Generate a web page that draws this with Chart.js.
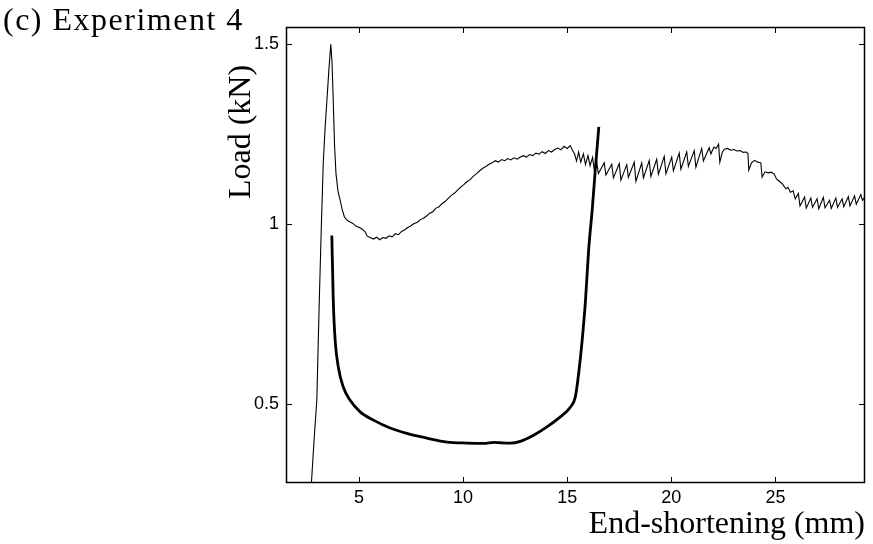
<!DOCTYPE html>
<html>
<head>
<meta charset="utf-8">
<script src="https://cdn.jsdelivr.net/npm/chart.js@4/dist/chart.umd.min.js"></script>
<style>
  body { margin: 0; background: #fff; }
  #wrap { width: 873px; height: 544px; }
</style>
</head>
<body>
<div id="wrap"><canvas id="loadChart" width="873" height="544"></canvas></div>
<script>
// measured load vs end-shortening (thin line)
const testX = [
  2.70, 2.85, 2.98, 3.10, 3.20, 3.29, 3.38, 3.46, 3.56, 3.65, 3.71, 3.77, 3.83, 3.90, 4.00, 4.10, 4.20, 4.30,
  4.40, 4.55, 4.70, 4.85, 5.00, 5.15, 5.30, 5.40, 5.55, 5.70, 5.85, 6.00, 6.15, 6.30, 6.45, 6.60, 6.75, 6.90,
  7.05, 7.20, 7.35, 7.50, 7.65, 7.80, 7.95, 8.10, 8.25, 8.40, 8.55, 8.70, 8.85, 9.00, 9.15, 9.30, 9.45, 9.60,
  9.75, 9.90, 10.05, 10.20, 10.35, 10.50, 10.65, 10.80, 10.95, 11.10, 11.25, 11.40, 11.55, 11.70, 11.85, 12.00,
  12.15, 12.30, 12.45, 12.60, 12.75, 12.90, 13.05, 13.20, 13.35, 13.50, 13.65, 13.80, 13.95, 14.10, 14.25, 14.40,
  14.55, 14.70, 14.85, 15.00, 15.15, 15.25,
  15.35, 15.45, 15.55, 15.65, 15.78, 15.88, 16.00, 16.10, 16.22, 16.30, 16.42,
  16.50, 16.78, 16.86, 17.14, 17.22, 17.50, 17.58, 17.86, 17.94, 18.22, 18.30, 18.58, 18.66, 18.94, 19.02,
  19.30, 19.38, 19.66, 19.74, 20.02, 20.10, 20.38, 20.46, 20.74, 20.82, 21.10, 21.18, 21.46, 21.54, 21.82,
  21.90, 22.05, 22.15, 22.27, 22.33, 22.45, 22.55, 22.70, 22.85, 23.00, 23.15, 23.30, 23.45, 23.60, 23.68,
  23.72, 23.85, 24.00, 24.15, 24.30, 24.36, 24.50, 24.65, 24.80, 24.95, 25.05, 25.20, 25.35, 25.50, 25.60,
  25.72, 25.85, 25.95, 26.10, 26.18, 26.40, 26.48, 26.70, 26.78, 27.00, 27.08, 27.30, 27.38, 27.60, 27.68,
  27.90, 27.98, 28.20, 28.28, 28.50, 28.58, 28.80, 28.88, 29.10, 29.18, 29.30
];
const testY = [
  0.26, 0.40, 0.51, 0.79, 1.00, 1.17, 1.27, 1.34, 1.43, 1.50, 1.45, 1.34, 1.22, 1.14, 1.09, 1.066, 1.040, 1.020,
  1.012, 1.006, 1.002, 0.994, 0.991, 0.986, 0.978, 0.966, 0.962, 0.958, 0.963, 0.956, 0.962, 0.960, 0.967, 0.964, 0.973, 0.970,
  0.979, 0.984, 0.990, 0.995, 1.001, 1.004, 1.012, 1.016, 1.022, 1.030, 1.034, 1.044, 1.048, 1.057, 1.063, 1.072, 1.080, 1.086,
  1.095, 1.103, 1.110, 1.118, 1.124, 1.133, 1.140, 1.148, 1.155, 1.160, 1.166, 1.170, 1.176, 1.172, 1.179, 1.176,
  1.182, 1.178, 1.184, 1.180, 1.186, 1.190, 1.186, 1.193, 1.190, 1.197, 1.194, 1.201, 1.196, 1.204, 1.200, 1.207,
  1.211, 1.206, 1.216, 1.210, 1.218, 1.205,
  1.196, 1.175, 1.200, 1.172, 1.195, 1.165, 1.190, 1.162, 1.185, 1.150, 1.172,
  1.140, 1.170, 1.136, 1.166, 1.128, 1.168, 1.122, 1.165, 1.130, 1.172, 1.118, 1.170, 1.128, 1.176, 1.132,
  1.180, 1.138, 1.188, 1.140, 1.186, 1.148, 1.197, 1.152, 1.200, 1.160, 1.204, 1.158, 1.210, 1.175, 1.212,
  1.195, 1.214, 1.210, 1.222, 1.172, 1.200, 1.208, 1.210, 1.205, 1.207, 1.203, 1.204, 1.199, 1.200, 1.196,
  1.150, 1.170, 1.177, 1.172, 1.170, 1.130, 1.145, 1.142, 1.144, 1.138, 1.125, 1.118, 1.110, 1.098, 1.102,
  1.088, 1.092, 1.070, 1.085, 1.050, 1.075, 1.044, 1.072, 1.046, 1.070, 1.042, 1.074, 1.045, 1.066, 1.043,
  1.072, 1.046, 1.070, 1.048, 1.076, 1.050, 1.078, 1.055, 1.082, 1.066, 1.075
];

// predicted curve (thick line)
const modelX = [3.70, 3.77, 3.86, 4.01, 4.25, 4.58, 5.06, 5.70, 6.50, 7.30, 8.26, 9.23, 10.19, 10.99, 11.50,
  11.79, 12.27, 12.75, 13.39, 14.03, 14.67, 15.15, 15.39, 15.55, 15.72, 15.88, 16.03, 16.20, 16.35, 16.52];
const modelY = [0.968, 0.787, 0.676, 0.602, 0.546, 0.509, 0.477, 0.454, 0.432, 0.417, 0.404, 0.393, 0.390, 0.389, 0.392,
  0.391, 0.390, 0.395, 0.412, 0.435, 0.463, 0.490, 0.518, 0.583, 0.676, 0.787, 0.927, 1.038, 1.150, 1.270];

const xTicks = [5, 10, 15, 20, 25];
const yTicks = [0.5, 1, 1.5];
const yTickLabels = ['0.5', '1', '1.5'];

const serif = '"Liberation Serif", "Times New Roman", serif';
const sans = '"Liberation Sans", Arial, sans-serif';

// box round the plot with inward ticks on all four sides, plus the side texts
const framePlugin = {
  id: 'frame',
  afterDatasetsDraw(chart) {
    const { ctx, chartArea: a, scales } = chart;
    const len = 6;
    ctx.save();
    ctx.strokeStyle = '#000';
    ctx.lineWidth = 1.5;
    ctx.strokeRect(a.left + 0.5, a.top + 0.5, a.right - a.left - 1, a.bottom - a.top - 1);
    ctx.lineWidth = 1;
    ctx.beginPath();
    xTicks.forEach(v => {
      const px = Math.round(scales.x.getPixelForValue(v)) + 0.5;
      ctx.moveTo(px, a.bottom); ctx.lineTo(px, a.bottom - len);
      ctx.moveTo(px, a.top); ctx.lineTo(px, a.top + len);
    });
    yTicks.forEach(v => {
      const py = Math.round(scales.y.getPixelForValue(v)) + 0.5;
      ctx.moveTo(a.left, py); ctx.lineTo(a.left + len, py);
      ctx.moveTo(a.right, py); ctx.lineTo(a.right - len, py);
    });
    ctx.stroke();

    ctx.fillStyle = '#000';
    ctx.font = '32px ' + serif;
    ctx.textBaseline = 'alphabetic';
    ctx.textAlign = 'left';
    if ('letterSpacing' in ctx) ctx.letterSpacing = '1.5px';
    ctx.fillText('(c) Experiment 4', 3, 30);
    if ('letterSpacing' in ctx) ctx.letterSpacing = '0px';

    ctx.translate(250, 132);
    ctx.rotate(-Math.PI / 2);
    ctx.textAlign = 'center';
    ctx.fillText('Load (kN)', 0, 0);
    ctx.restore();
  }
};

const ctx = document.getElementById('loadChart').getContext('2d');
const chart = new Chart(ctx, {
  type: 'line',
  data: {
    datasets: [{
      label: 'Experiment',
      data: testX.map((x, i) => ({ x: x, y: testY[i] })),
      borderColor: '#000',
      borderWidth: 1.1,
      pointRadius: 0,
      tension: 0
    }, {
      label: 'Prediction',
      data: modelX.map((x, i) => ({ x: x, y: modelY[i] })),
      borderColor: '#000',
      borderWidth: 2.8,
      pointRadius: 0,
      cubicInterpolationMode: 'monotone'
    }]
  },
  options: {
    responsive: false,
    animation: false,
    devicePixelRatio: 1,
    layout: { padding: { top: 27, right: 8, left: 0, bottom: 0 } },
    plugins: {
      legend: { display: false },
      title: { display: false },
      tooltip: { enabled: false }
    },
    scales: {
      x: {
        type: 'linear',
        min: 1.5,
        max: 29.3,
        grid: { display: false, drawTicks: false },
        border: { display: false },
        afterFit: s => { s.height = 61; },
        afterBuildTicks: s => { s.ticks = xTicks.map(v => ({ value: v })); },
        ticks: {
          color: '#000',
          padding: 4,
          maxRotation: 0,
          font: { family: sans, size: 18 },
          callback: v => String(v)
        },
        title: {
          display: true,
          text: 'End-shortening (mm)',
          align: 'end',
          color: '#000',
          padding: 0,
          font: { family: serif, size: 32 }
        }
      },
      y: {
        type: 'linear',
        min: 0.279,
        max: 1.548,
        grid: { display: false, drawTicks: false },
        border: { display: false },
        afterFit: s => { s.width = 286; },
        afterBuildTicks: s => { s.ticks = yTicks.map(v => ({ value: v })); },
        ticks: {
          color: '#000',
          padding: 7,
          font: { family: sans, size: 18 },
          callback: v => yTickLabels[yTicks.indexOf(v)]
        }
      }
    }
  },
  plugins: [framePlugin]
});
</script>
</body>
</html>
